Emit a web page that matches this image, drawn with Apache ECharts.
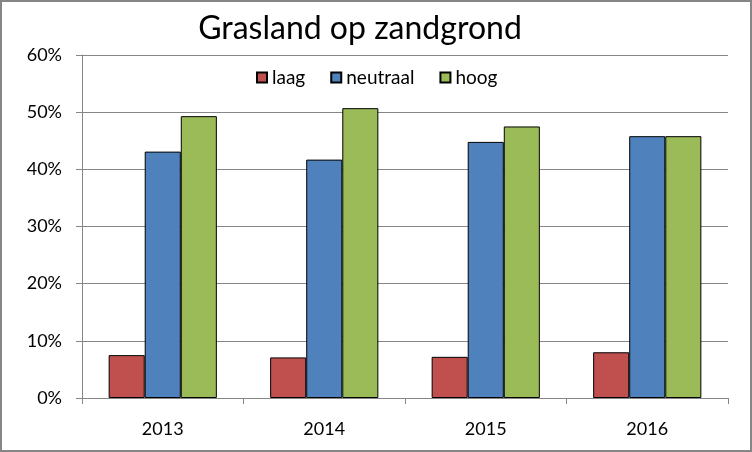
<!DOCTYPE html>
<html>
<head>
<meta charset="utf-8">
<script src="https://cdn.jsdelivr.net/npm/echarts@6/dist/echarts.min.js"></script>
<style>
html,body{margin:0;padding:0;background:#fff;}
#chart{width:752px;height:452px;}
</style>
</head>
<body>
<div id="chart"></div>
<script>
const categories = ['2013', '2014', '2015', '2016'];
const seriesNames = ['laag', 'neutraal', 'hoog'];
const laag = [7.5, 7.1, 7.2, 8.0];
const neutraal = [43.1, 41.7, 44.8, 45.8];
const hoog = [49.3, 50.7, 47.5, 45.8];
const yTicks = [0, 10, 20, 30, 40, 50, 60];

const colors = ['#C0504D', '#4F81BD', '#9BBB59'];
const font = 'Lato, "Open Sans", sans-serif';

const chart = echarts.init(document.getElementById('chart'));
const dataSets = [laag, neutraal, hoog];
chart.setOption({
  animation: false,
  backgroundColor: '#ffffff',
  title: {
    text: 'Grasland op zandgrond',
    left: 355,
    top: 8,
    textAlign: 'center',
    textStyle: { fontFamily: font, fontSize: 32, fontWeight: 'normal', color: '#000' }
  },
  legend: {
    data: seriesNames,
    left: 251,
    top: 63,
    itemWidth: 10,
    itemHeight: 10,
    itemGap: 25,
    icon: 'rect',
    textStyle: { fontFamily: font, fontSize: 19, color: '#000', padding: [0, 0, 0, 0] }
  },
  grid: { left: 82, right: 24, top: 55, bottom: 54, containLabel: false },
  xAxis: {
    type: 'category',
    data: categories,
    axisLine: { lineStyle: { color: '#868686', width: 1 } },
    axisTick: { show: true, length: 6, lineStyle: { color: '#868686' } },
    axisLabel: { fontFamily: font, fontSize: 18, color: '#000', margin: 22 }
  },
  yAxis: {
    type: 'value',
    min: yTicks[0],
    max: yTicks[yTicks.length - 1],
    interval: 10,
    axisLine: { show: true, lineStyle: { color: '#868686', width: 1 } },
    axisTick: { show: true, length: 6, lineStyle: { color: '#868686' } },
    splitLine: { lineStyle: { color: '#868686', width: 1 } },
    axisLabel: { fontFamily: font, fontSize: 18, color: '#000', margin: 20, formatter: v => v + '%' }
  },
  series: seriesNames.map((name, i) => ({
    name: name,
    type: 'bar',
    data: dataSets[i],
    barGap: '0%',
    barCategoryGap: '33%',
    itemStyle: { color: colors[i], borderColor: '#000', borderWidth: 1 }
  })),
  graphic: [{
    type: 'rect',
    silent: true,
    shape: { x: 1, y: 1, width: 750, height: 450 },
    style: { fill: 'none', stroke: '#868686', lineWidth: 2 }
  }]
});
</script>
</body>
</html>
